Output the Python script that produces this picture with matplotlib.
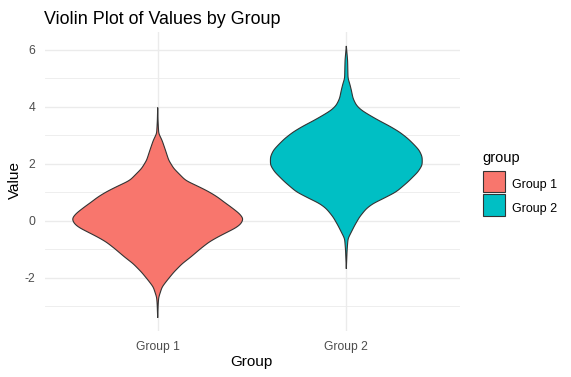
import numpy as np
import matplotlib
matplotlib.use("Agg")
import matplotlib.pyplot as plt
from matplotlib.patches import Rectangle

# ----------------------------------------------------
# DATA (violin outlines)
# ----------------------------------------------------
groups = ["Group 1", "Group 2"]
colors = ["#F8766D", "#00BFC4"]

g1_values = [3.97, 3.50, 3.06, 2.82, 2.47, 2.12, 1.83, 1.59, 1.41, 1.30, 1.16,
             1.01, 0.83, 0.65, 0.48, 0.25, 0.07, -0.11, -0.25, -0.40, -0.58,
             -0.75, -0.98, -1.28, -1.51, -1.81, -2.10, -2.33, -2.69, -2.92, -3.41]
g1_density = [0.0, 0.004, 0.012, 0.051, 0.091, 0.129, 0.188, 0.267, 0.326, 0.404,
              0.502, 0.600, 0.698, 0.776, 0.855, 0.953, 1.0, 0.973, 0.914, 0.815,
              0.698, 0.600, 0.502, 0.385, 0.286, 0.188, 0.109, 0.051, 0.012, 0.006, 0.0]

g2_values = [6.13, 5.63, 4.99, 4.82, 4.58, 4.29, 4.05, 3.88, 3.70, 3.50, 3.32,
             3.11, 2.88, 2.65, 2.47, 2.24, 1.95, 1.71, 1.36, 1.01, 0.77, 0.60,
             0.42, 0.13, -0.17, -0.40, -0.63, -0.81, -1.04, -1.69]
g2_density = [0.0, 0.015, 0.020, 0.039, 0.059, 0.079, 0.118, 0.176, 0.274, 0.392,
              0.509, 0.627, 0.726, 0.804, 0.859, 0.894, 0.894, 0.844, 0.726, 0.588,
              0.432, 0.314, 0.235, 0.156, 0.098, 0.059, 0.020, 0.015, 0.009, 0.0]

y_ticks = [-2, 0, 2, 4, 6]
y_minor = [-3, -1, 1, 3, 5]

FONT = "Liberation Sans"
GRID = "#EBEBEB"
W, H = 571, 377


def violin(ax, pos, values, density, color, half_width=0.45):
    v = np.asarray(values)
    d = np.asarray(density)
    order = np.argsort(v)
    v, d = v[order], d[order]
    grid = np.linspace(v[0], v[-1], 600)
    w = np.interp(grid, v, d)
    k = np.exp(-0.5 * (np.arange(-12, 13) / 5.0) ** 2)
    w = np.convolve(w, k / k.sum(), mode="same")
    w = w / w.max() * d.max()
    w[0] = w[-1] = 0
    w = w * half_width
    xs = np.concatenate([pos - w, (pos + w)[::-1]])
    ys = np.concatenate([grid, grid[::-1]])
    ax.fill(xs, ys, facecolor=color, edgecolor="#333333", linewidth=0.8, zorder=3)


def fx(px):
    return px / W


def fy(py):
    return 1 - py / H


def main():
    fig = plt.figure(figsize=(W / 100, H / 100), dpi=100)
    ax = fig.add_axes([fx(44.5), fy(331.4), 415 / W, 299 / H])

    violin(ax, 1, g1_values, g1_density, colors[0])
    violin(ax, 2, g2_values, g2_density, colors[1])

    lo = min(min(g1_values), min(g2_values))
    hi = max(max(g1_values), max(g2_values))
    pad = 0.05 * (hi - lo)
    ax.set_ylim(lo - pad, hi + pad)
    ax.set_xlim(0.4, 2.6)

    # grid
    for y in y_ticks:
        ax.axhline(y, color=GRID, lw=1.0, zorder=0)
    for y in y_minor:
        ax.axhline(y, color=GRID, lw=0.6, zorder=0)
    for x in (1, 2):
        ax.axvline(x, color=GRID, lw=1.0, zorder=0)

    ax.set_xticks([1, 2])
    ax.set_xticklabels(groups)
    ax.set_yticks(y_ticks)
    ax.set_yticklabels([f"{t}" if t >= 0 else f"-{abs(t)}" for t in y_ticks])
    ax.tick_params(length=0, labelsize=8.7, labelcolor="#4D4D4D")
    ax.tick_params(axis="x", pad=7)
    ax.tick_params(axis="y", pad=6.5)
    for lab in ax.get_xticklabels() + ax.get_yticklabels():
        lab.set_fontfamily(FONT)
    for s in ax.spines.values():
        s.set_visible(False)

    fig.text(fx(251), fy(362), "Group", ha="center", va="center",
             fontsize=11, family=FONT)
    fig.text(fx(15), fy(180), "Value", ha="center", va="center",
             rotation=90, fontsize=11, family=FONT)
    fig.text(fx(44), fy(24.5), "Violin Plot of Values by Group",
             ha="left", va="baseline", fontsize=12.9, family=FONT)

    # legend (drawn by hand to match ggplot key layout)
    fig.text(fx(482), fy(162), "group", ha="left", va="baseline",
             fontsize=10.5, family=FONT)
    key_tops = [171, 194.3]
    for top, c, g in zip(key_tops, colors, groups):
        fig.patches.append(Rectangle((fx(482.5), fy(top + 21.3)), 22.3 / W, 21.3 / H,
                                     transform=fig.transFigure, facecolor=c,
                                     edgecolor="#333333", linewidth=0.8))
        fig.text(fx(512.5), fy(top + 17.3), g, ha="left", va="baseline",
                 fontsize=9, family=FONT)

    fig.savefig("out.png", dpi=100)
    plt.close(fig)


if __name__ == "__main__":
    main()
